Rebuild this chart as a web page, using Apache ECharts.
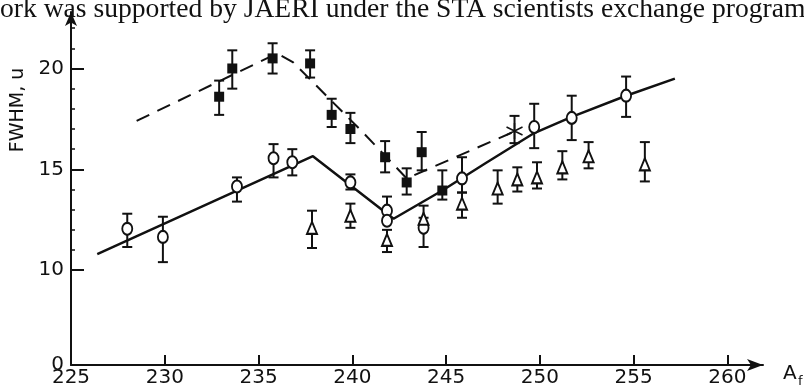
<!DOCTYPE html>
<html><head><meta charset="utf-8">
<script src="https://cdn.jsdelivr.net/npm/echarts@6/dist/echarts.min.js"></script>
<style>html,body{margin:0;padding:0;background:#fff}#c{width:804px;height:388px}</style>
</head><body><div id="c"></div>
<script>
// ---- axes ----
const xTicks = [225, 230, 235, 240, 245, 250, 255, 260];
const yTicks = [10, 15, 20];
const yFloor = 5.3;          // bottom of the broken y axis, shown as "0"
const yFloorLabel = '0';
const yMinorTicks = [11,12,13,14,16,17,18,19,21,22];

// ---- filled squares (A, FWHM, low, high) ----
const sqA  = [232.9, 233.6, 235.75, 237.75, 238.9, 239.9, 241.75, 242.9, 243.7, 244.8];
const sqY  = [18.6, 20.0, 20.5, 20.25, 17.7, 17.0, 15.6, 14.35, 15.85, 13.95];
const sqLo = [17.7, 19.0, 19.75, 19.55, 17.1, 16.3, 14.85, 13.75, 14.95, 13.5];
const sqHi = [19.4, 20.9, 21.25, 20.9, 18.5, 17.8, 16.4, 15.05, 16.85, 14.95];

// ---- asterisk ----
const astA = [248.65], astY = [16.9], astLo = [16.3], astHi = [17.65];

// ---- open circles ----
const ciA  = [228.0, 229.9, 233.85, 235.8, 236.8, 239.9, 241.85, 241.85, 243.8, 245.85, 249.7, 251.7, 254.6];
const ciY  = [12.05, 11.65, 14.15, 15.55, 15.35, 14.35, 12.95, 12.45, 12.1, 14.55, 17.1, 17.55, 18.65];
const ciLo = [11.15, 10.4, 13.4, 14.6, 14.7, 14.0, 12.6, 12.45, 11.15, 13.85, 16.05, 16.45, 17.6];
const ciHi = [12.8, 12.65, 14.6, 16.25, 16.0, 14.75, 13.65, 12.45, 12.6, 15.6, 18.25, 18.65, 19.6];

// ---- open triangles ----
const trA  = [237.85, 239.9, 241.85, 243.8, 245.85, 247.75, 248.8, 249.85, 251.2, 252.6, 255.6];
const trY  = [12.1, 12.7, 11.5, 12.55, 13.3, 14.05, 14.5, 14.6, 15.1, 15.65, 15.25];
const trLo = [11.1, 12.1, 10.9, 12.1, 12.6, 13.3, 13.9, 14.05, 14.5, 15.05, 14.4];
const trHi = [12.95, 13.3, 12.0, 13.2, 13.85, 14.95, 15.1, 15.35, 15.9, 16.35, 16.35];

// ---- curves ----
const solidA = [226.4, 237.9, 242.2, 244.8, 247.1, 249.7, 251.7, 254.6, 257.2];
const solidY = [10.8, 15.65, 12.55, 13.95, 15.3, 16.8, 17.6, 18.65, 19.5];
const dashA  = [228.5, 236.0, 236.85, 240.6, 242.9, 248.7];
const dashY  = [17.4, 20.75, 20.3, 16.8, 14.55, 16.9];

const zip2 = (a, b) => a.map((v, i) => [v, b[i]]);
const zip3 = (a, b, c) => a.map((v, i) => [v, b[i], c[i]]);
const INK = '#111';

function errRender(params, api) {
  const x = api.value(0), lo = api.value(1), hi = api.value(2);
  if (lo === hi) return null;
  const pLo = api.coord([x, lo]), pHi = api.coord([x, hi]);
  const w = 5, st = {stroke: INK, lineWidth: 2};
  return {type: 'group', children: [
    {type: 'line', shape: {x1: pLo[0], y1: pLo[1], x2: pHi[0], y2: pHi[1]}, style: st},
    {type: 'line', shape: {x1: pHi[0]-w, y1: pHi[1], x2: pHi[0]+w, y2: pHi[1]}, style: st},
    {type: 'line', shape: {x1: pLo[0]-w, y1: pLo[1], x2: pLo[0]+w, y2: pLo[1]}, style: st}
  ]};
}
function errSeries(a, lo, hi) {
  return {type: 'custom', renderItem: errRender, data: zip3(a, lo, hi),
          encode: {x: 0, y: [1, 2]}, z: 3, silent: true, clip: false};
}

const labelFont = "'DejaVu Sans'";
const chart = echarts.init(document.getElementById('c'), null, {renderer: 'canvas'});
chart.setOption({
  animation: false,
  backgroundColor: '#fff',
  grid: {left: 71, right: 41, top: 12, bottom: 23, containLabel: false},
  xAxis: {
    type: 'value', min: 225, max: 261.9,
    axisLine: {show: true, symbol: ['none', 'arrow'], symbolSize: [9, 16], lineStyle: {color: INK, width: 2}},
    axisTick: {show: true, inside: true, length: 10, customValues: xTicks.slice(1), lineStyle: {color: INK, width: 2}},
    axisLabel: {customValues: xTicks, margin: 3, color: INK, fontSize: 20, fontFamily: labelFont, lineHeight: 20},
    splitLine: {show: false}
  },
  yAxis: [{
    type: 'value', min: yFloor, max: 22.8,
    axisLine: {show: true, symbol: ['none', 'arrow'], symbolSize: [9, 14], lineStyle: {color: INK, width: 2}},
    axisTick: {show: true, inside: true, length: 13, customValues: yTicks, lineStyle: {color: INK, width: 2}},
    axisLabel: {customValues: [yFloor].concat(yTicks), margin: 7, color: INK, fontSize: 20, fontFamily: labelFont,
                formatter: v => (Math.abs(v - yFloor) < 1e-6 ? yFloorLabel : String(v))},
    splitLine: {show: false}
  }, {
    type: 'value', min: yFloor, max: 22.8, position: 'left',
    axisLine: {show: false},
    axisTick: {show: true, inside: true, length: 4, customValues: yMinorTicks, lineStyle: {color: INK, width: 1.5}},
    axisLabel: {show: false}, splitLine: {show: false}
  }],
  graphic: [
    {type: 'text', x: 0, y: 10, z: 10,
     style: {text: 'ork was supported by JAERI under the STA scientists exchange program',
             font: "27.6px 'Liberation Serif'", fill: INK, verticalAlign: 'middle', align: 'left'}},
    {type: 'text', x: 18, y: 110, rotation: Math.PI / 2, z: 10,
     style: {text: 'FWHM, u', font: "19px 'DejaVu Sans'", fill: INK, align: 'center', verticalAlign: 'middle'}},
    {type: 'text', x: 783, y: 374, z: 10,
     style: {text: 'A', font: "20px 'DejaVu Sans'", fill: INK, align: 'left', verticalAlign: 'middle'}},
    {type: 'text', x: 798, y: 382, z: 10,
     style: {text: 'f', font: "13px 'DejaVu Sans'", fill: INK, align: 'left', verticalAlign: 'middle'}}
  ],
  series: [
    {type: 'line', data: zip2(solidA, solidY), showSymbol: false, symbol: 'none', z: 2,
     lineStyle: {color: INK, width: 2.5}},
    {type: 'line', data: zip2(dashA, dashY), showSymbol: false, symbol: 'none', z: 2,
     lineStyle: {color: INK, width: 2, type: [14, 9]}},
    errSeries(sqA, sqLo, sqHi),
    errSeries(ciA, ciLo, ciHi),
    errSeries(trA, trLo, trHi),
    errSeries(astA, astLo, astHi),
    {type: 'scatter', data: zip2(sqA, sqY), symbol: 'rect', symbolSize: 10, z: 4,
     itemStyle: {color: INK, opacity: 1}},
    {type: 'scatter', data: zip2(ciA, ciY), symbol: 'circle', symbolSize: [10, 12], z: 4,
     itemStyle: {color: '#fff', borderColor: INK, borderWidth: 2, opacity: 1}},
    {type: 'scatter', data: zip2(trA, trY), symbol: 'triangle', symbolSize: [10, 12], z: 4,
     itemStyle: {color: '#fff', borderColor: INK, borderWidth: 2, opacity: 1}},
    {type: 'scatter', data: zip2(astA, astY), z: 4,
     symbol: 'path://M0,-10L0,10M-8.7,-5L8.7,5M-8.7,5L8.7,-5', symbolSize: 16,
     itemStyle: {color: 'none', borderColor: INK, borderWidth: 1.5, opacity: 1}}
  ]
});
</script></body></html>
